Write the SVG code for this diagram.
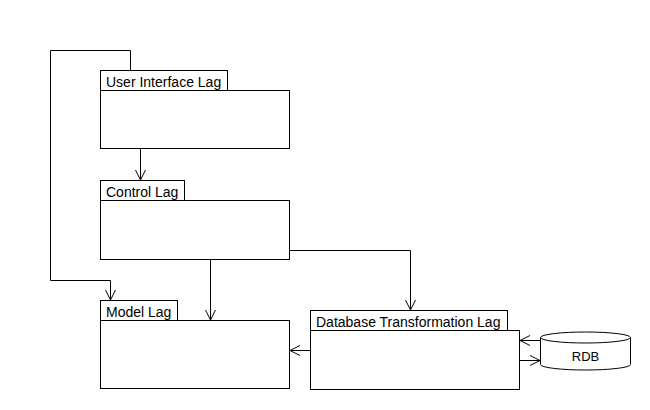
<svg xmlns="http://www.w3.org/2000/svg" width="650" height="410" viewBox="0 0 650 410">
<style>
.s{fill:#fff;stroke:#000;stroke-width:1}
.c{fill:none;stroke:#000;stroke-width:1}
.t{font-family:"Liberation Sans",Arial,sans-serif;font-size:14px;fill:#000}
</style>
<defs>
<marker id="a" markerUnits="userSpaceOnUse" markerWidth="12" markerHeight="12" refX="10" refY="5" orient="auto" overflow="visible">
<path d="M0,0 L10,5 L0,10" fill="none" stroke="#000" stroke-width="1"/>
</marker>
</defs>
<rect width="650" height="410" fill="#fff"/>
<g id="connectors">
<path class="c" d="M130.5,70 V50.5 H50.5 V280.5 H110.5 V300" marker-end="url(#a)"/>
<path class="c" d="M140.5,148 V180" marker-end="url(#a)"/>
<path class="c" d="M210.5,260 V320" marker-end="url(#a)"/>
<path class="c" d="M289,250.5 H410.5 V310" marker-end="url(#a)"/>
<path class="c" d="M311,350.5 H290" marker-end="url(#a)"/>
<path class="c" d="M540,340.5 H520" marker-end="url(#a)"/>
<path class="c" d="M520,360.5 H540" marker-end="url(#a)"/>
</g>
<g id="ui">
<rect class="s" x="100.5" y="70.5" width="127" height="20"/>
<rect class="s" x="100.5" y="90.5" width="189" height="58"/>
<text class="t" x="106" y="87">User Interface Lag</text>
</g>
<g id="control">
<rect class="s" x="100.5" y="180.5" width="84" height="20"/>
<rect class="s" x="100.5" y="200.5" width="189" height="59"/>
<text class="t" x="106" y="197">Control Lag</text>
</g>
<g id="model">
<rect class="s" x="100.5" y="300.5" width="77" height="20"/>
<rect class="s" x="100.5" y="320.5" width="189" height="68"/>
<text class="t" x="106" y="317">Model Lag</text>
</g>
<g id="dbt">
<rect class="s" x="310.5" y="310.5" width="197" height="20"/>
<rect class="s" x="310.5" y="330.5" width="209" height="59"/>
<text class="t" x="316" y="327">Database Transformation Lag</text>
</g>
<g id="rdb">
<path class="s" d="M540.5,337.5 A45,5.5 0 0 1 630.5,337.5 V364.5 A45,5.5 0 0 1 540.5,364.5 Z"/>
<path class="c" d="M540.5,337.5 A45,5.5 0 0 0 630.5,337.5"/>
<text class="t" x="585.5" y="361" text-anchor="middle" style="font-size:13px">RDB</text>
</g>
</svg>
